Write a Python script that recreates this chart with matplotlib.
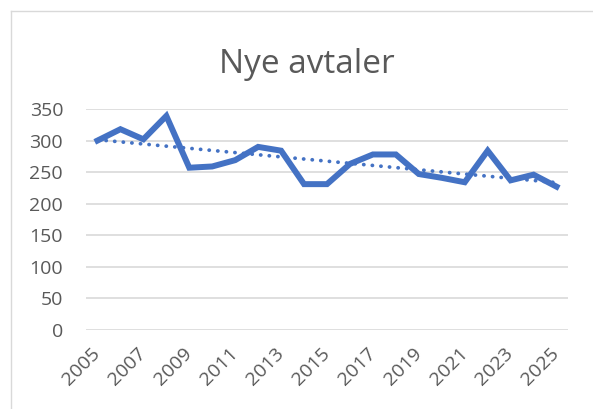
import matplotlib
matplotlib.use("Agg")
import matplotlib.pyplot as plt
import numpy as np
from matplotlib.lines import Line2D

years = list(range(2005, 2026))
values = [300, 318, 302, 339, 257, 259, 269, 290, 284, 231, 231, 263, 278, 278, 247, 241, 234, 284, 237, 246, 227]
yticks = [0, 50, 100, 150, 200, 250, 300, 350]
title = "Nye avtaler"

W, H = 593, 409
plt.rcParams['font.family'] = ['Open Sans', 'DejaVu Sans']
fig = plt.figure(figsize=(W / 100, H / 100), dpi=100)
ax = fig.add_axes([86 / W, 1 - 330 / H, (568 - 86) / W, (330 - 109) / H])

x = np.arange(len(years))
ax.plot(x, values, color='#4472C4', lw=4.3, solid_joinstyle='miter', zorder=3)
coef = np.polyfit(x, values, 1)
ax.plot(x, np.polyval(coef, x), color='#4472C4', lw=2.7, linestyle=(0, (0.05, 2.25)),
        dash_capstyle='round', zorder=2)

ax.set_xlim(-0.5, len(years) - 0.5)
ax.set_ylim(0, 350)
ax.set_yticks(yticks)
ax.set_yticklabels([str(v) for v in yticks])
ax.set_xticks(x[::2])
ax.set_xticklabels([str(y) for y in years[::2]], rotation=45, ha='right', va='center',
                   rotation_mode='anchor')
ax.grid(axis='y', color='#d9d9d9', lw=1.2)
ax.set_axisbelow(True)
for s in ax.spines.values():
    s.set_visible(False)
ax.tick_params(axis='both', length=0, labelsize=14, labelcolor='#595959')
ax.tick_params(axis='y', pad=16.5)
ax.tick_params(axis='x', pad=15)

fig.text(307 / W, 1 - 73 / H, title, ha='center', va='baseline', fontsize=24, color='#595959')
bx, by = 10.5 / W, 1 - 10.5 / H
fig.add_artist(Line2D([bx, 1.01], [by, by], transform=fig.transFigure, color='#d9d9d9', lw=1))
fig.add_artist(Line2D([bx, bx], [by, -0.01], transform=fig.transFigure, color='#d9d9d9', lw=1))
fig.savefig("out.png", dpi=100)
